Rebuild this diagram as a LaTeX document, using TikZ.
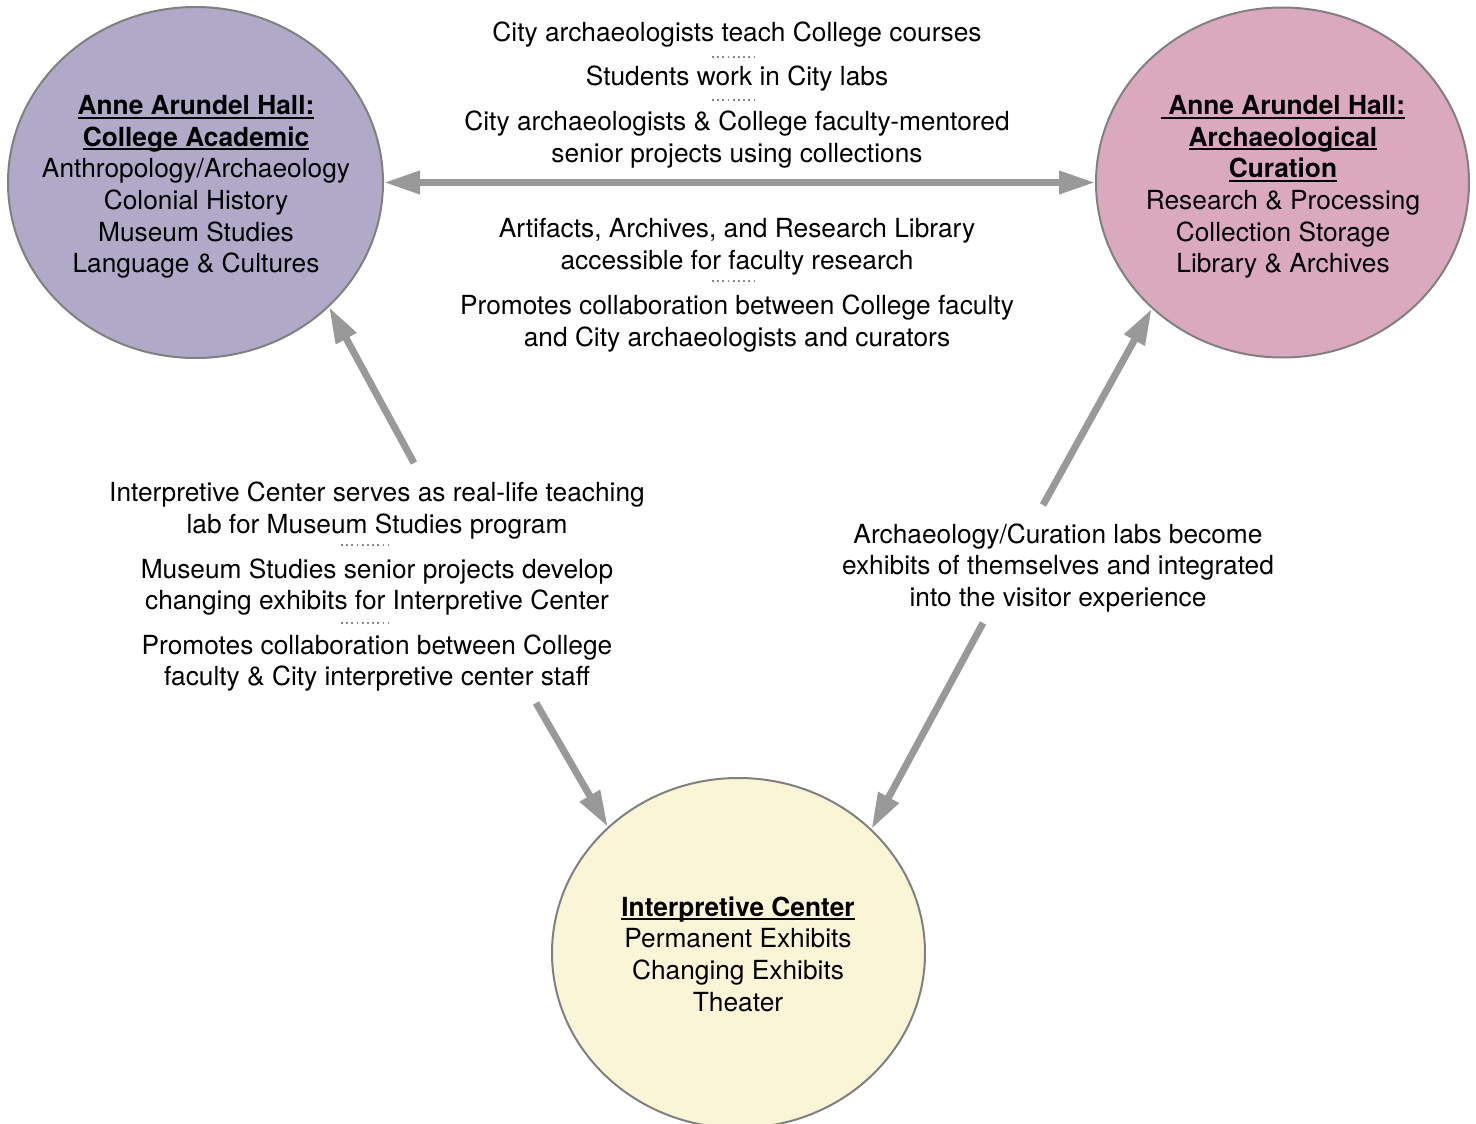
\documentclass[tikz,border=0pt]{standalone}
\usepackage{fontspec}
\setmainfont{TeX Gyre Heros}
\usetikzlibrary{arrows.meta,shapes.geometric}
\definecolor{purp}{RGB}{176,169,200}
\definecolor{pinkc}{RGB}{219,169,190}
\definecolor{yell}{RGB}{250,245,214}
\definecolor{arrg}{RGB}{153,153,153}
\definecolor{bord}{RGB}{128,128,128}
\definecolor{dotg}{RGB}{135,135,135}
\newsavebox\ulbox
\newcommand\ult[1]{\sbox\ulbox{\bfseries #1}\rlap{\rule[-0.15em]{\wd\ulbox}{0.075em}}\usebox\ulbox}
\begin{document}
\begin{tikzpicture}[x=1pt,y=-1pt,
  hub/.style={ellipse, draw=bord, line width=2pt, inner sep=0pt, minimum width=375pt, minimum height=351pt},
  txt/.style={align=center, inner sep=0pt, font=\fontsize{26.3}{31.6}\selectfont},
  arr/.style={draw=arrg, line width=7pt, -{Triangle[length=36pt,width=22pt]}},
  arrb/.style={draw=arrg, line width=7pt, {Triangle[length=36pt,width=22pt]}-{Triangle[length=36pt,width=22pt]}},
  sep/.style={draw=dotg, line width=1.8pt, dash pattern=on 1.8pt off 3.4pt}
]
\useasboundingbox (0,0) rectangle (1476,1124);

% hubs
\node[hub, fill=purp] (L) at (195.5,182.5) {};
\node[hub, fill=pinkc, minimum width=373pt, minimum height=350pt] (R) at (1282.5,182.5) {};
\node[hub, fill=yell, minimum width=373pt, minimum height=350pt] (B) at (738.5,953) {};

\node[txt] (Lt) at (196,187) {\ult{Anne Arundel Hall:}\\ \ult{College Academic}\\ Anthropology/Archaeology\\ Colonial History\\ Museum Studies\\ Language \& Cultures};
\node[txt] (Rt) at (1283,187) {\ult{\ Anne Arundel Hall:}\\ \ult{Archaeological}\hspace*{0.28em}\\ \ult{Curation}\\ Research \& Processing\\ Collection Storage\\ Library \& Archives};
\node[txt] (Bt) at (738,954) {\ult{Interpretive Center}\\ Permanent Exhibits\\ Changing Exhibits\\ Theater};

% top block
\node[txt] (P1) at (737,35) {City archaeologists teach College courses};
\node[txt] (P2) at (737,79) {Students work in City labs};
\node[txt] (P3) at (737,139.5) {City archaeologists \& College faculty-mentored\\ senior projects using collections};
\node[txt] (P4) at (737,247) {Artifacts, Archives, and Research Library\\ accessible for faculty research};
\node[txt] (P5) at (737,323.5) {Promotes collaboration between College faculty\\ and City archaeologists and curators};
\draw[sep] (712,57) -- (758,57);
\draw[sep] (712,100) -- (758,100);
\draw[sep] (712,281) -- (758,281);

% left block
\node[txt] (P6) at (377,510.5) {Interpretive Center serves as real-life teaching\\ lab for Museum Studies program};
\node[txt] (P7) at (377,587) {Museum Studies senior projects develop\\ changing exhibits for Interpretive Center};
\node[txt] (P8) at (377,663) {Promotes collaboration between College\\ faculty \& City interpretive center staff};
\draw[sep] (341,545) -- (389,545);
\draw[sep] (341,623) -- (389,623);

% right block
\node[txt] (P9) at (1058,568) {Archaeology/Curation labs become\\ exhibits of themselves and integrated\\ into the visitor experience};

% connectors
\coordinate (t1) at (414,463);
\coordinate (t2) at (536,703);
\coordinate (t3) at (983,623);
\coordinate (t4) at (1043,505);
\draw[arrb] (L) -- (R);
\draw[arr] (t1) -- (L.-43.5);
\draw[arr] (t2) -- (B.136.4);
\draw[arr] (t3) -- (B.43.4);
\draw[arr] (t4) -- (R.-136.8);
\end{tikzpicture}
\end{document}
